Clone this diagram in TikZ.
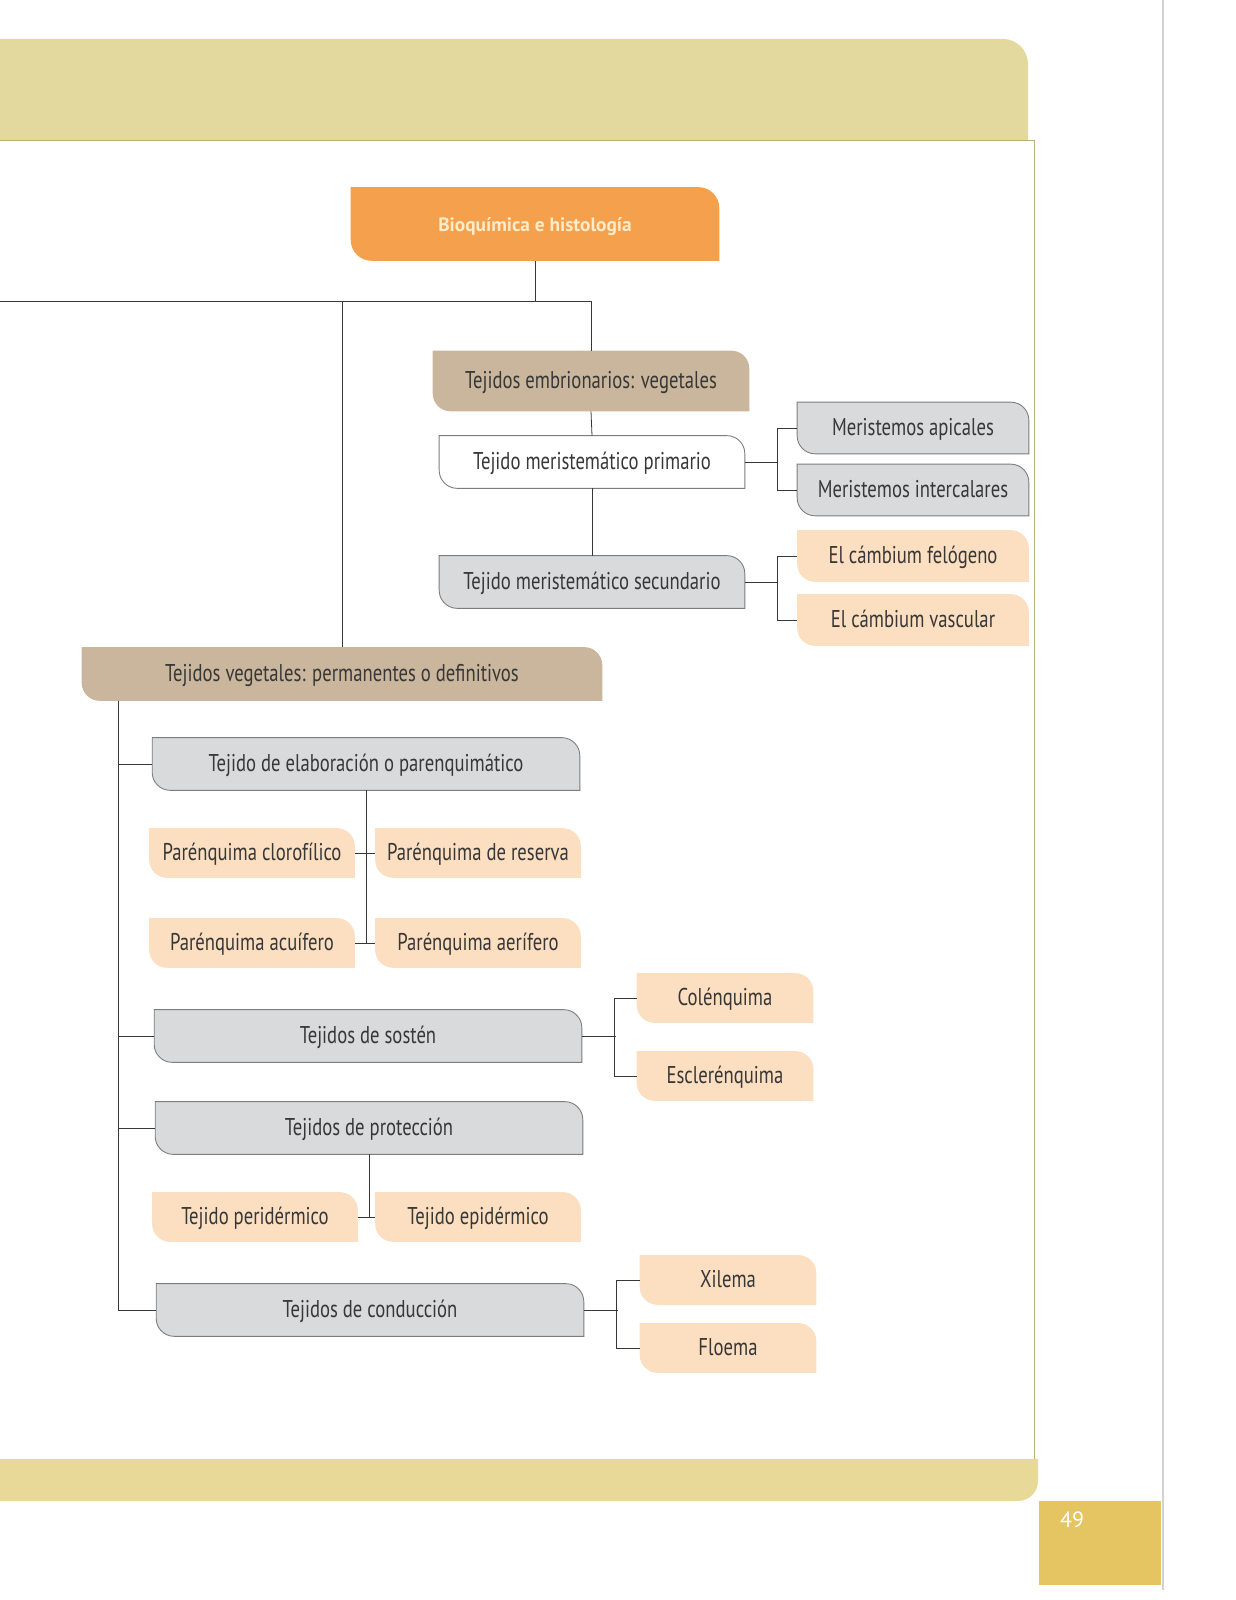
\documentclass[tikz,border=0pt]{standalone}
\usepackage{fontspec}
\setmainfont{PT Sans}[FakeStretch=0.77]
\newfontfamily\titlefont{PT Sans}
\usepackage{xcolor}
\usepackage{tikz}
\usetikzlibrary{backgrounds, calc}
\definecolor{titleorange}{RGB}{245,160,76}
\definecolor{titletext}{RGB}{253,236,202}
\definecolor{tancolor}{RGB}{201,182,156}
\definecolor{graycolor}{RGB}{217,218,220}
\definecolor{peachcolor}{RGB}{252,222,192}
\definecolor{bandtop}{RGB}{227,216,157}
\definecolor{bandbottom}{RGB}{232,217,152}
\definecolor{pagebox}{RGB}{229,197,98}
\definecolor{olivecolor}{RGB}{165,155,80}
\definecolor{textgray}{RGB}{55,55,55}
\definecolor{outlinegray}{RGB}{125,125,125}

\newcommand{\leafr}{0.36cm}
\newcommand{\leafshape}[2]{%
  \path[#2] (#1.north west) -- ([xshift=-\leafr]#1.north east)
    arc[start angle=90, end angle=0, radius=\leafr] -- (#1.south east)
    -- ([xshift=\leafr]#1.south west)
    arc[start angle=270, end angle=180, radius=\leafr] -- cycle;}

\begin{document}
\begin{tikzpicture}[
    x=0.02cm, y=0.02cm,
    label/.style={inner sep=0pt, text=textgray, text height=0.9em, text depth=0.1em,
        font=\fontsize{13.8pt}{16pt}\selectfont},
    wide/.style={label, minimum width=8.54cm, minimum height=1.04cm},
    middle/.style={label, minimum width=6.10cm, minimum height=1.04cm},
    side/.style={label, minimum width=4.62cm, minimum height=1.02cm},
    pair/.style={label, minimum width=4.10cm, minimum height=0.98cm},
    short/.style={label, minimum width=3.52cm, minimum height=0.98cm},
    orangefill/.style={fill=titleorange},
    tanfill/.style={fill=tancolor},
    grayfill/.style={fill=graycolor, draw=outlinegray, line width=0.5pt},
    whitefill/.style={fill=white, draw=outlinegray, line width=0.5pt},
    peachfill/.style={fill=peachcolor},
    link/.style={draw=textgray, line width=0.45pt}
]
    \useasboundingbox (0,0) rectangle (1236,1600);

    % Page frame
    \fill[bandtop] (0,1460) -- (0,1561) -- (1003,1561)
        arc[start angle=90, end angle=0, radius=0.5cm] -- (1028,1460) -- cycle;
    \draw[olivecolor!80, line width=0.5pt] (0,1460) -- (1034,1460) -- (1034,141);
    \fill[bandbottom] (0,141) -- (1038,141) -- (1038,119)
        arc[start angle=0, end angle=-90, radius=0.4cm] -- (0,99) -- cycle;
    \fill[pagebox] (1039,15) rectangle (1161,99);
    \node[text=white, font=\titlefont\fontsize{12.5pt}{14pt}\selectfont] (page) at (1072,80) {49};
    \draw[gray!35, line width=1pt] (1163,10) -- (1163,1600);

    % Title
    \node[inner sep=0pt, minimum width=7.36cm, minimum height=1.46cm, text=titletext,
        text height=0.9em, text depth=0.1em,
        font=\titlefont\fontsize{11pt}{13pt}\selectfont\bfseries] (bio) at (535,1376) {Bioquímica e histología};

    % Tejidos embrionarios
    \node[label, minimum width=6.32cm, minimum height=1.20cm] (embr) at (591,1219) {Tejidos embrionarios: vegetales};
    \node[middle] (prim) at (592,1138) {Tejido meristemático primario};
    \node[middle] (sec) at (592,1018) {Tejido meristemático secundario};
    \node[side] (api) at (913,1172) {Meristemos apicales};
    \node[side] (inter) at (913,1110) {Meristemos intercalares};
    \node[side] (felo) at (913,1044) {El cámbium felógeno};
    \node[side] (vasc) at (913,980) {El cámbium vascular};

    % Tejidos permanentes
    \node[label, minimum width=10.40cm, minimum height=1.06cm] (perm) at (342,926) {Tejidos vegetales: permanentes o definitivos};
    \node[wide] (elab) at (366,836) {Tejido de elaboración o parenquimático};
    \node[pair] (cloro) at (252,747) {Parénquima clorofílico};
    \node[pair] (reser) at (478,747) {Parénquima de reserva};
    \node[pair] (acui) at (252,657) {Parénquima acuífero};
    \node[pair] (aeri) at (478,657) {Parénquima aerífero};
    \node[wide] (sost) at (368,564) {Tejidos de sostén};
    \node[short] (cole) at (725,602) {Colénquima};
    \node[short] (escl) at (725,524) {Esclerénquima};
    \node[wide] (prot) at (369,472) {Tejidos de protección};
    \node[pair] (peri) at (255,383) {Tejido peridérmico};
    \node[pair] (epi) at (478,383) {Tejido epidérmico};
    \node[wide] (cond) at (370,290) {Tejidos de conducción};
    \node[short] (xil) at (728,320) {Xilema};
    \node[short] (floe) at (728,252) {Floema};

    % Box shapes
    \begin{scope}[on background layer]
        \begingroup\renewcommand{\leafr}{0.42cm}\leafshape{bio}{orangefill}\endgroup
        \foreach \n in {embr, perm} {\leafshape{\n}{tanfill}}
        \leafshape{prim}{whitefill}
        \foreach \n in {sec, api, inter, elab, sost, prot, cond} {\leafshape{\n}{grayfill}}
        \foreach \n in {felo, vasc, cloro, reser, acui, aeri, peri, epi, cole, escl, xil, floe} {\leafshape{\n}{peachfill}}
    \end{scope}

    % Connectors
    \coordinate (edge) at (0,1299);
    \coordinate (spine) at ([xshift=0.74cm]perm.south west);
    \draw[link] (bio.south) -- (bio.south |- edge);
    \draw[link] (edge) -| (embr.north);
    \draw[link] (edge -| perm.north) -- (perm.north);
    \draw[link] (embr.south) -- (prim.north);
    \draw[link] (prim.south) -- (sec.north);
    \draw[link] (prim.east) -- ++(0.66cm,0);
    \draw[link] (api.west) -- ++(-0.4cm,0) |- (inter.west);
    \draw[link] (sec.east) -- ++(0.66cm,0);
    \draw[link] (felo.west) -- ++(-0.4cm,0) |- (vasc.west);

    \draw[link] (spine) |- (cond.west);
    \foreach \b in {elab, sost, prot} {\draw[link] (\b.west) -- (\b.west -| spine);}
    \draw[link] (elab.south) -- (elab.south |- acui.east);
    \draw[link] (cloro.east) -- (reser.west);
    \draw[link] (acui.east) -- (aeri.west);
    \draw[link] (sost.east) -- ++(0.68cm,0);
    \draw[link] (cole.west) -- ++(-0.44cm,0) |- (escl.west);
    \draw[link] (prot.south) -- (prot.south |- peri.east);
    \draw[link] (peri.east) -- (epi.west);
    \draw[link] (cond.east) -- ++(0.68cm,0);
    \draw[link] (xil.west) -- ++(-0.46cm,0) |- (floe.west);
\end{tikzpicture}
\end{document}
